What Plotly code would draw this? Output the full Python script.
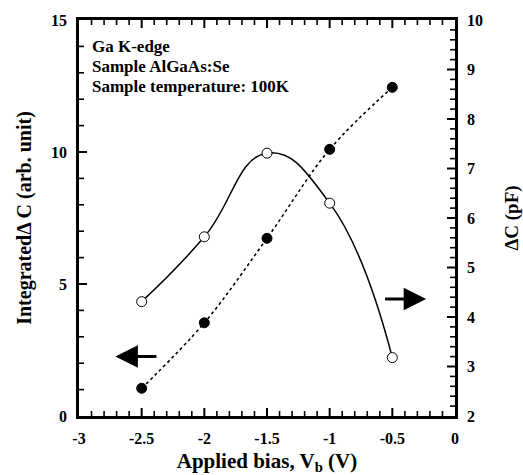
import numpy as np
import plotly.graph_objects as go

bias = [-2.5, -2.0, -1.5, -1.0, -0.5]
integrated_dc = [1.05, 3.53, 6.73, 10.1, 12.45]   # left axis, filled circles
delta_c_pf = [4.31, 5.62, 7.31, 6.30, 3.18]       # right axis, open circles
notes = ["Ga K-edge", "Sample AlGaAs:Se", "Sample temperature: 100K"]
x_ticks = [-3, -2.5, -2, -1.5, -1, -0.5, 0]
x_ticktext = ["-3", "-2.5", "-2", "-1.5", "-1", "-0.5", "0"]
y_ticks = [0, 5, 10, 15]
y2_ticks = [2, 3, 4, 5, 6, 7, 8, 9, 10]
x_range = [-3, 0]
y_range = [0, 15]
y2_range = [2, 10]
x_minor_step, y_minor_step, y2_minor_step = 0.1, 1, 0.2

FONT = "Liberation Serif"
TICKFONT = dict(family=FONT, size=16, color="black", weight="bold")
W, H = 523, 475
M = dict(l=79, r=68, t=20, b=59)
PW, PH = W - M["l"] - M["r"], H - M["t"] - M["b"]

fig = go.Figure()
fig.add_trace(go.Scatter(
    x=bias, y=integrated_dc, mode="lines+markers",
    line=dict(color="black", width=1.6, dash="dot", shape="spline", smoothing=1.0),
    marker=dict(symbol="circle", size=10, color="black", line=dict(color="black", width=1)),
    yaxis="y", showlegend=False))
fig.add_trace(go.Scatter(
    x=bias, y=delta_c_pf, mode="lines+markers",
    line=dict(color="black", width=1.5, shape="spline", smoothing=1.3),
    marker=dict(symbol="circle", size=10, color="white", line=dict(color="black", width=1)),
    yaxis="y2", showlegend=False))

line = dict(showline=True, linecolor="black", linewidth=2.5, showgrid=False,
            zeroline=False, automargin=False, ticks="", ticklabelstandoff=6)

fig.update_layout(
    width=W, height=H, margin=M,
    paper_bgcolor="white", plot_bgcolor="white",
    font=dict(family=FONT, color="black"),
    xaxis=dict(
        range=x_range, tickmode="array", tickvals=x_ticks, ticktext=x_ticktext,
        mirror=True, tickfont=TICKFONT,
        title=dict(text="Applied bias, V<sub>b</sub> (V)", standoff=12,
                   font=dict(family=FONT, size=21, color="black", weight="bold")),
        **line),
    yaxis=dict(
        range=y_range, tickmode="array", tickvals=y_ticks, tickfont=TICKFONT,
        title=dict(text="IntegratedΔ C (arb. unit)", standoff=15,
                   font=dict(family=FONT, size=20, color="black", weight="bold")),
        **line),
    yaxis2=dict(
        range=y2_range, tickmode="array", tickvals=y2_ticks, overlaying="y", side="right",
        tickfont=TICKFONT,
        title=dict(text="ΔC (pF)", standoff=24,
                   font=dict(family=FONT, size=19, color="black", weight="bold")),
        **line),
)

# inside tick marks drawn at the axis tick values
MAJ, MIN = 8, 5


def add_tick(xref, yref, x0, x1, y0, y1, w):
    fig.add_shape(type="line", xref=xref, yref=yref, x0=x0, x1=x1, y0=y0, y1=y1,
                  line=dict(color="black", width=w), layer="above")


def ticks_between(lo, hi, step):
    return np.round(np.arange(lo, hi + step / 2, step), 6)


x_minor = [v for v in ticks_between(*x_range, x_minor_step) if v not in x_ticks]
for v, ln, w in [(v, MAJ, 2) for v in x_ticks[1:-1]] + [(v, MIN, 1.6) for v in x_minor]:
    add_tick("x", "y domain", v, v, 0, ln / PH, w)          # bottom
    add_tick("x", "y domain", v, v, 1, 1 - ln / PH, w)      # top

y_minor = [v for v in ticks_between(*y_range, y_minor_step) if v not in y_ticks]
for v, ln, w in [(v, MAJ, 2) for v in y_ticks[1:-1]] + [(v, MIN, 1.6) for v in y_minor]:
    add_tick("x domain", "y", 0, ln / PW, v, v, w)

y2_minor = [v for v in ticks_between(*y2_range, y2_minor_step) if v not in y2_ticks]
for v, ln, w in [(v, MAJ, 2) for v in y2_ticks[1:-1]] + [(v, MIN, 1.6) for v in y2_minor]:
    add_tick("x domain", "y2", 1, 1 - ln / PW, v, v, w)

for i, t in enumerate(notes):
    fig.add_annotation(x=0.03, y=0.932 - i * 0.0505, xref="paper", yref="paper",
                       text=t, showarrow=False, xanchor="left", yanchor="middle",
                       font=dict(family=FONT, size=17, color="black", weight="bold"))

# direction arrows
fig.add_annotation(x=-2.71, y=2.25, ax=-2.37, ay=2.25, xref="x", yref="y",
                   axref="x", ayref="y", text="", showarrow=True,
                   arrowhead=2, arrowsize=1.5, arrowwidth=3, arrowcolor="black")
fig.add_annotation(x=-0.23, y=4.43, ax=-0.57, ay=4.43, xref="x", yref="y",
                   axref="x", ayref="y", text="", showarrow=True,
                   arrowhead=2, arrowsize=1.5, arrowwidth=3, arrowcolor="black")

fig.write_html("out.html")
